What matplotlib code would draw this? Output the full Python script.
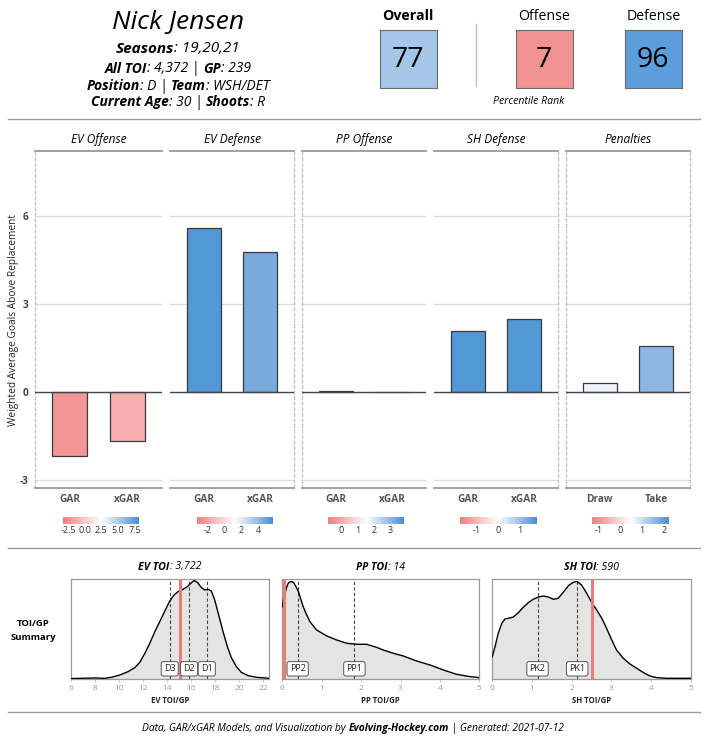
import matplotlib
matplotlib.use("Agg")
import matplotlib.pyplot as plt
from matplotlib.colors import LinearSegmentedColormap, Normalize
from matplotlib.cm import ScalarMappable
from matplotlib.transforms import blended_transform_factory

FONT = "Open Sans"
plt.rcParams["font.family"] = [FONT, "DejaVu Sans"]

W, H = 706, 750

# ---- player info ----
player_name = "Nick Jensen"
seasons = "19,20,21"
all_toi = "4,372"
games = "239"
position = "D"
team = "WSH/DET"
age = "30"
shoots = "R"

rank_labels = ["Overall", "Offense", "Defense"]
rank_values = [77, 7, 96]
rank_colors = ["#a4c7e9", "#f29393", "#5b9edb"]

# ---- GAR panels ----
panel_titles = ["EV Offense", "EV Defense", "PP Offense", "SH Defense", "Penalties"]
panel_cats = [["GAR", "xGAR"], ["GAR", "xGAR"], ["GAR", "xGAR"], ["GAR", "xGAR"], ["Draw", "Take"]]
panel_values = [[-2.18, -1.68], [5.61, 4.76], [0.03, -0.01], [2.07, 2.48], [0.32, 1.57]]
bar_colors = [["#f39696", "#f8aeae"], ["#5198d6", "#78aade"], ["#f5f8fc", "#f7fafd"],
              ["#5198d6", "#5299d6"], ["#eef2fa", "#8db6e2"]]
cbar_limits = [(-3.3, 8.2), (-3.26, 5.74), (-0.82, 3.88), (-1.77, 1.77), (-1.31, 2.23)]
cbar_ticks = [[-2.5, 0, 2.5, 5, 7.5], [-2, 0, 2, 4], [0, 1, 2, 3], [-1, 0, 1], [-1, 0, 1, 2]]
cbar_ticklabels = [["-2.5", "0.0", "2.5", "5.0", "7.5"], ["-2", "0", "2", "4"], ["0", "1", "2", "3"],
                   ["-1", "0", "1"], ["-1", "0", "1", "2"]]

# ---- TOI/GP distributions (relative height) ----
ev_x = [6.0, 6.89, 7.99, 8.82, 9.38, 10.07, 10.76, 11.32, 11.73, 12.15, 12.56, 12.98, 13.39,
        13.81, 14.22, 14.58, 14.91, 15.33, 15.69, 15.97, 16.24, 16.52, 16.85, 17.13, 17.41,
        17.68, 17.96, 18.29, 18.65, 19.01, 19.34, 19.76, 20.17, 20.73, 21.42, 22.45]
ev_y = [0.007, 0.01, 0.013, 0.01, 0.02, 0.043, 0.077, 0.117, 0.17, 0.26, 0.36, 0.477, 0.577,
        0.683, 0.783, 0.843, 0.877, 0.9, 0.927, 0.96, 0.987, 0.97, 0.917, 0.893, 0.9,
        0.883, 0.793, 0.643, 0.477, 0.327, 0.217, 0.127, 0.07, 0.037, 0.02, 0.01]
pp_x = [0.0, 0.03, 0.07, 0.11, 0.15, 0.18, 0.22, 0.26, 0.3, 0.35, 0.41, 0.47, 0.53, 0.6, 0.7,
        0.87, 1.13, 1.38, 1.64, 1.89, 2.14, 2.39, 2.56, 2.82, 3.07, 3.41, 3.75, 4.09, 4.42,
        4.76, 5.0]
pp_y = [0.727, 0.8, 0.86, 0.92, 0.96, 0.97, 0.977, 0.975, 0.96, 0.925, 0.877, 0.8, 0.727, 0.66,
        0.577, 0.493, 0.433, 0.393, 0.36, 0.35, 0.35, 0.32, 0.293, 0.26, 0.233, 0.183, 0.143,
        0.093, 0.05, 0.027, 0.017]
sh_x = [0.0, 0.07, 0.15, 0.24, 0.32, 0.4, 0.53, 0.66, 0.78, 0.91, 1.03, 1.16, 1.29, 1.41, 1.54,
        1.66, 1.79, 1.92, 2.04, 2.14, 2.25, 2.38, 2.5, 2.63, 2.76, 2.88, 3.01, 3.13, 3.3, 3.47,
        3.64, 3.81, 3.97, 4.14, 4.39, 5.0]
sh_y = [0.227, 0.327, 0.46, 0.56, 0.603, 0.61, 0.623, 0.667, 0.72, 0.767, 0.8, 0.823, 0.833,
        0.823, 0.8, 0.81, 0.87, 0.937, 0.97, 0.977, 0.943, 0.86, 0.77, 0.693, 0.61, 0.51, 0.393,
        0.293, 0.21, 0.153, 0.11, 0.067, 0.033, 0.017, 0.01, 0.01]

toi_titles = [("EV TOI", "3,722"), ("PP TOI", "14"), ("SH TOI", "590")]
toi_xlabels = ["EV TOI/GP", "PP TOI/GP", "SH TOI/GP"]
player_toi = [15.08, 0.05, 2.5]
line_names = [["D3", "D2", "D1"], ["PP2", "PP1"], ["PK2", "PK1"]]
line_values = [[14.22, 15.83, 17.3], [0.39, 1.83], [1.14, 2.14]]
toi_xlims = [(5.98, 22.45), (0, 5), (0, 5)]
toi_xticks = [list(range(6, 23, 2)), list(range(0, 6)), list(range(0, 6))]

footer_date = "2021-07-12"


fig = plt.figure(figsize=(W / 100, H / 100), dpi=100)
renderer = fig.canvas.get_renderer()


def px_axes(x0, y0, x1, y1):
    return fig.add_axes([x0 / W, 1 - y1 / H, (x1 - x0) / W, (y1 - y0) / H])


def rich_text(x, y, parts, size, color="black"):
    # parts: (string, weight, style); centred at pixel position x, y
    items = []
    total = 0
    for s, wt, st in parts:
        t = fig.text(0, 1 - y / H, s, fontsize=size, fontweight=wt, fontstyle=st,
                     ha="left", va="center", color=color)
        w = t.get_window_extent(renderer).width
        items.append((t, w))
        total += w
    x0 = x - total / 2
    for t, w in items:
        t.set_x(x0 / W)
        x0 += w


def hline(y, x0=8, x1=700, color="#9a9a9a", lw=1.0):
    fig.add_artist(plt.Line2D([x0 / W, x1 / W], [1 - y / H, 1 - y / H], color=color, lw=lw,
                              transform=fig.transFigure))


# ---- header ----
fig.text(178 / W, 1 - 22 / H, player_name, fontsize=19, fontstyle="italic",
         ha="center", va="center")
rich_text(178, 49, [("Seasons", "bold", "italic"), (": " + seasons, "normal", "italic")], 11)
rich_text(178, 69, [("All TOI", "bold", "italic"), (": " + all_toi + " | ", "normal", "italic"),
                    ("GP", "bold", "italic"), (": " + games, "normal", "italic")], 10)
rich_text(178, 86, [("Position", "bold", "italic"), (": " + position + " | ", "normal", "italic"),
                    ("Team", "bold", "italic"), (": " + team, "normal", "italic")], 10)
rich_text(178, 102, [("Current Age", "bold", "italic"), (": " + age + " | ", "normal", "italic"),
                     ("Shoots", "bold", "italic"), (": " + shoots, "normal", "italic")], 10)

box_x = [379.5, 515.5, 624.5]
for i, (lab, val, col) in enumerate(zip(rank_labels, rank_values, rank_colors)):
    ax = px_axes(box_x[i], 29.5, box_x[i] + 57.5, 87.5)
    ax.set_facecolor(col)
    ax.set_xticks([])
    ax.set_yticks([])
    for sp in ax.spines.values():
        sp.set_color("#6b6b6b")
        sp.set_linewidth(0.8)
    ax.text(0.5, 0.48, str(val), fontsize=20.5, ha="center", va="center", transform=ax.transAxes)
    fig.text((box_x[i] + 28.75) / W, 1 - 16 / H, lab, fontsize=10.2,
             fontweight="bold" if i == 0 else "normal", ha="center", va="center")
fig.add_artist(plt.Line2D([476.5 / W, 476.5 / W], [1 - 24 / H, 1 - 86 / H], color="#bdbdbd",
                          lw=1, transform=fig.transFigure))
fig.text(529 / W, 1 - 101 / H, "Percentile Rank", fontsize=7.6, fontstyle="italic",
         ha="center", va="center")

hline(119)

# ---- GAR panels ----
cmap = LinearSegmentedColormap.from_list("rwb", ["#ef7e7e", "#ffffff", "#4a8fd6"])
panel_x = [(35, 162), (170, 294), (302, 426), (434, 558), (566, 690)]
cbar_x = [(62.7, 139), (196.7, 272.7), (328.3, 404.3), (460, 536.7), (592.3, 668.7)]
dashed_left = [True, False, True, False, True]
dashed_right = [False, True, False, True, True]
ylo, yhi = -3.27, 8.22

for i in range(5):
    x0, x1 = panel_x[i]
    ax = px_axes(x0, 151, x1, 488)
    ax.set_xlim(0.4, 2.6)
    ax.set_ylim(ylo, yhi)
    for g in [-3, 3, 6]:
        ax.axhline(g, color="#dddddd", lw=0.9, zorder=0)
    ax.bar([1, 2], panel_values[i], width=0.6, color=bar_colors[i], edgecolor="#3a3a3a",
           lw=0.9, zorder=2)
    ax.axhline(0, color="#444444", lw=1.0, zorder=3)
    ax.set_xticks([1, 2])
    ax.set_xticklabels(panel_cats[i], fontsize=7.3, fontweight="bold", color="#555555")
    ax.tick_params(axis="x", length=0, pad=4)
    if i == 0:
        ax.set_yticks([-3, 0, 3, 6])
        ax.set_yticklabels(["-3", "0", "3", "6"], fontsize=7.2, fontweight="bold", color="#444444")
        ax.tick_params(axis="y", length=0, pad=5)
    else:
        ax.set_yticks([])
    ax.spines["top"].set_color("#9a9a9a")
    ax.spines["top"].set_linewidth(1.3)
    ax.spines["bottom"].set_color("#9a9a9a")
    ax.spines["bottom"].set_linewidth(1.3)
    for side, on in (("left", dashed_left[i]), ("right", dashed_right[i])):
        sp = ax.spines[side]
        sp.set_visible(on)
        sp.set_color("#c4c4c4")
        sp.set_linestyle((0, (2, 2)))
        sp.set_linewidth(1.0)
    fig.text((x0 + x1) / 2 / W, 1 - 139.5 / H, panel_titles[i], fontsize=8.6,
             fontstyle="italic", ha="center", va="center")

    c0, c1 = cbar_x[i]
    cax = px_axes(c0, 516.5, c1, 523.5)
    lo, hi = cbar_limits[i]
    cb = fig.colorbar(ScalarMappable(norm=Normalize(lo, hi), cmap=cmap), cax=cax,
                      orientation="horizontal")
    cb.outline.set_visible(False)
    cb.set_ticks(cbar_ticks[i])
    cb.set_ticklabels(cbar_ticklabels[i])
    cax.tick_params(axis="x", length=0, pad=2, labelsize=6.5, labelcolor="#333333")

fig.text(14 / W, 1 - 320 / H, "Weighted Average Goals Above Replacement", rotation=90,
         fontsize=7.3, color="#222222", ha="center", va="center")

hline(548)

# ---- TOI/GP distributions ----
fig.text(33 / W, 1 - 630.5 / H, "TOI/GP\nSummary", fontsize=6.8, fontweight="bold",
         ha="center", va="center", linespacing=1.7)

curves = [(ev_x, ev_y), (pp_x, pp_y), (sh_x, sh_y)]
dens_x = [(70.7, 268.7), (282.3, 479.3), (492.3, 690.7)]
for i in range(3):
    x0, x1 = dens_x[i]
    ax = px_axes(x0, 579.3, x1, 679.3)
    cx, cy = curves[i]
    ax.fill_between(cx, cy, color="#e4e4e4", lw=0, zorder=1)
    ax.plot(cx, cy, color="black", lw=1.0, zorder=3)
    ax.set_xlim(*toi_xlims[i])
    ax.set_ylim(0, 1.0)
    trans = blended_transform_factory(ax.transData, ax.transAxes)
    for name, v in zip(line_names[i], line_values[i]):
        ax.axvline(v, color="#444444", lw=0.8, ls=(0, (3, 2)), zorder=2)
        ax.text(v, 0.105, name, transform=trans, fontsize=6.5, ha="center", va="center",
                color="#222222", zorder=5,
                bbox=dict(boxstyle="round,pad=0.3,rounding_size=0.25", fc="white",
                          ec="#555555", lw=0.7))
    ax.axvline(player_toi[i], color="#ee7b7b", lw=2.2, zorder=4)
    ax.set_yticks([])
    ax.set_xticks(toi_xticks[i])
    ax.tick_params(axis="x", length=2, color="#cccccc", pad=2, labelsize=6, labelcolor="#999999")
    ax.set_xlabel(toi_xlabels[i], fontsize=5.6, fontweight="bold", color="#222222", labelpad=3)
    for sp in ax.spines.values():
        sp.set_color("#9a9a9a")
        sp.set_linewidth(0.9)
    name, val = toi_titles[i]
    rich_text((x0 + x1) / 2, 567, [(name, "bold", "italic"), (": " + val, "normal", "italic")], 7.7)

hline(712)

rich_text(353, 729, [("Data, GAR/xGAR Models, and Visualization by ", "normal", "italic"),
                     ("Evolving-Hockey.com", "bold", "italic"),
                     (" | Generated: " + footer_date, "normal", "italic")], 7.4)

fig.savefig("out.png", dpi=100)
